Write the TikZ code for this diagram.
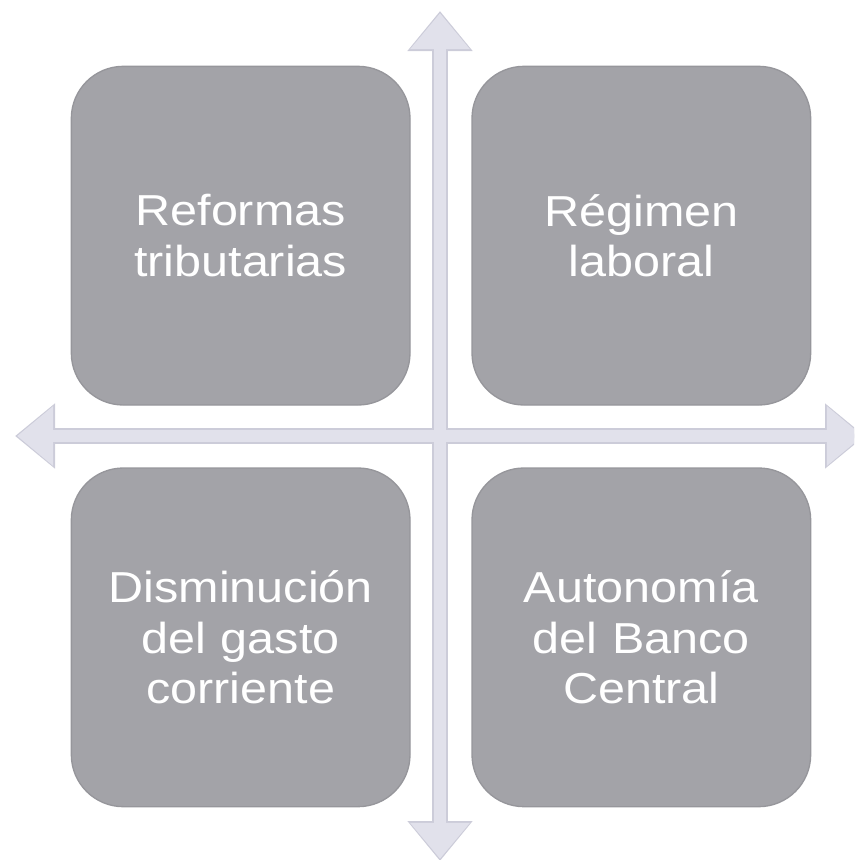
\documentclass[tikz,border=0pt]{standalone}
\usepackage{fontspec}
\setmainfont[FakeStretch=1.12]{Liberation Sans}
\usetikzlibrary{positioning,arrows.meta}
\definecolor{boxgray}{RGB}{163,163,168}
\definecolor{boxedge}{RGB}{150,150,155}
\definecolor{crossfill}{RGB}{225,225,235}
\definecolor{crossedge}{RGB}{204,204,217}
\tikzstyle{block} = [rectangle, draw=boxedge, line width=1pt, fill=boxgray, text=white,
    text width=254pt, align=center, inner sep=0pt, outer sep=0pt,
    minimum width=254pt, minimum height=254pt, rounded corners=39pt,
    font=\fontsize{32.5}{38}\selectfont]
\tikzstyle{axisback} = [draw=crossedge, line width=12pt,
    {Triangle[width=47pt,length=30pt]}-{Triangle[width=47pt,length=30pt]}]
\tikzstyle{axis} = [draw=crossfill, line width=9.5pt, shorten <=1.6pt, shorten >=1.6pt,
    {Triangle[width=43pt,length=27pt]}-{Triangle[width=43pt,length=27pt]}]

\begin{document}
\begin{tikzpicture}[x=0.75pt, y=0.75pt]

	\useasboundingbox (0,0) rectangle (854,-860);
	\clip (0,0) rectangle (854,-860);

	\coordinate (c) at (440,-436);
	\coordinate (up) at (440,-11);
	\coordinate (down) at (440,-861);
	\coordinate (west) at (15,-436);
	\coordinate (east) at (865,-436);

	\path [axisback] (west) -- (east);
	\path [axisback] (up) -- (down);
	\path [axis] (west) -- (east);
	\path [axis] (up) -- (down);

	\node [block, above left=23.25pt and 22.5pt of c] (tax) {Reformas\\tributarias};
	\node [block, above right=23.25pt and 24pt of c] (labor) {Régimen\\laboral};
	\node [block, below left=24pt and 22.5pt of c] (spending) {Disminución\\del gasto\\corriente};
	\node [block, below right=24pt and 24pt of c] (bank) {Autonomía\\del Banco\\Central};

\end{tikzpicture}
\end{document}
